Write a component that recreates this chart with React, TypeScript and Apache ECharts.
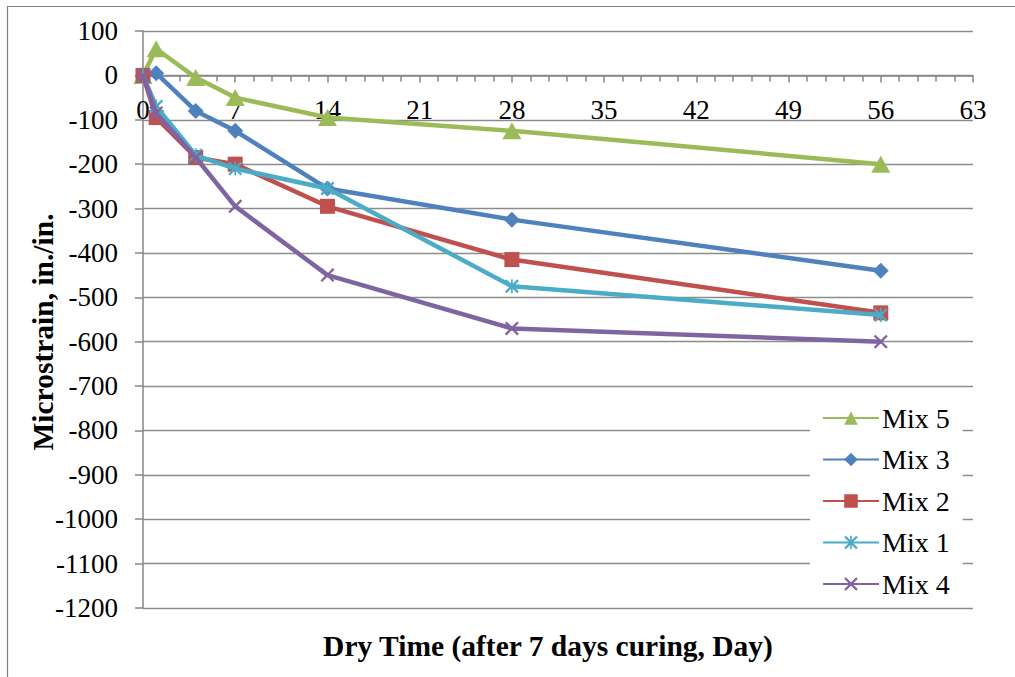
import React, { useEffect, useRef } from "react";
import * as echarts from "echarts";

const days = [0, 1, 4, 7, 14, 28, 56];
const mix5 = [0, 60, -5, -50, -95, -125, -200];
const mix3 = [0, 5, -80, -125, -255, -325, -440];
const mix2 = [0, -95, -185, -200, -295, -415, -535];
const mix1 = [0, -70, -180, -210, -255, -475, -540];
const mix4 = [0, -85, -185, -295, -450, -570, -600];
const seriesNames = ["Mix 5", "Mix 3", "Mix 2", "Mix 1", "Mix 4"];
const seriesValues = [mix5, mix3, mix2, mix1, mix4];
const colors = ["#9BBB59", "#4F81BD", "#C0504D", "#4BACC6", "#8064A2"];

const X_PATH =
  "M0,1.2 L1.2,0 L5,3.8 L8.8,0 L10,1.2 L6.2,5 L10,8.8 L8.8,10 L5,6.2 L1.2,10 L0,8.8 L3.8,5 Z";
const STAR_PATH = X_PATH + " M4.4,0 L5.6,0 L5.6,10 L4.4,10 Z";
const symbols = ["triangle", "diamond", "rect", "path://" + STAR_PATH, "path://" + X_PATH];
const symbolSizes = [[19, 17], 16, 15, 14, 14];

const FONT = "Liberation Serif";
const Y_MIN = -1200;
const Y_MAX = 100;
const GRID_TOP = 31;
const GRID_BOTTOM_PX = 608;

export default function App() {
  const ref = useRef<HTMLDivElement>(null);
  useEffect(() => {
    document.body.style.margin = "0";
    const chart = echarts.init(ref.current!, null, { renderer: "svg" });
    const series = seriesNames.map((name, i) => ({
      name,
      type: "line",
      data: days.map((d, j) => [d, seriesValues[i][j]]),
      symbol: symbols[i],
      symbolSize: symbolSizes[i],
      showAllSymbol: true,
      lineStyle: { color: colors[i], width: 4.5 },
      itemStyle: { color: colors[i] },
      z: 2 + i,
    }));
    // place the x axis on y = 0
    const zeroY = GRID_TOP + ((Y_MAX - 0) / (Y_MAX - Y_MIN)) * (GRID_BOTTOM_PX - GRID_TOP);
    const xOffset = -(GRID_BOTTOM_PX - zeroY);
    chart.setOption({
      animation: false,
      backgroundColor: "#ffffff",
      textStyle: { fontFamily: FONT },
      grid: { left: 143, right: 42, top: GRID_TOP, bottom: 677 - GRID_BOTTOM_PX },
      xAxis: {
        type: "value",
        min: 0,
        max: 63,
        interval: 7,
        position: "bottom",
        offset: xOffset,
        axisLine: { onZero: false, lineStyle: { color: "#868686", width: 1.5 } },
        axisTick: { show: true, length: 7, lineStyle: { color: "#868686", width: 1.5 } },
        minorTick: { show: true, splitNumber: 5, length: 6, lineStyle: { color: "#868686", width: 1.5 } },
        splitLine: { show: false },
        axisLabel: { fontFamily: FONT, fontSize: 27, color: "#000", margin: 21 },
      },
      yAxis: {
        type: "value",
        min: Y_MIN,
        max: Y_MAX,
        interval: 100,
        axisLine: { show: true, lineStyle: { color: "#868686", width: 1.5 } },
        axisTick: { show: true, length: 8, lineStyle: { color: "#868686", width: 1.5 } },
        splitLine: { show: true, lineStyle: { color: "#8c8c8c", width: 1.4 } },
        axisLabel: {
          fontFamily: FONT,
          fontSize: 27,
          color: "#000",
          margin: 25,
          formatter: (v: number) => String(v),
        },
      },
      legend: {
        data: seriesNames,
        orient: "vertical",
        left: 810,
        top: 395,
        padding: [9, 13, 9, 12],
        backgroundColor: "#ffffff",
        itemWidth: 56,
        itemHeight: 17,
        itemGap: 13.5,
        textStyle: { fontFamily: FONT, fontSize: 28, color: "#000", lineHeight: 28, padding: [0, 0, 0, -2] },
      },
      graphic: [
        {
          type: "rect",
          silent: true,
          shape: { x: 7.5, y: 6.5, width: 1030, height: 700 },
          style: { fill: "none", stroke: "#808080", lineWidth: 1.2 },
        },
        {
          type: "text",
          x: 43,
          y: 332,
          rotation: Math.PI / 2,
          style: {
            text: "Microstrain, in./in.",
            font: "bold 29.5px " + FONT,
            fill: "#000",
            align: "center",
            verticalAlign: "middle",
          },
        },
        {
          type: "text",
          x: 548,
          y: 646,
          style: {
            text: "Dry Time (after 7 days curing, Day)",
            font: "bold 29.5px " + FONT,
            fill: "#000",
            align: "center",
            verticalAlign: "middle",
          },
        },
      ],
      series,
    });
    return () => chart.dispose();
  }, []);
  return (
    <div
      ref={ref}
      style={{ position: "fixed", left: 0, top: 0, width: 1015, height: 677 }}
    />
  );
}
